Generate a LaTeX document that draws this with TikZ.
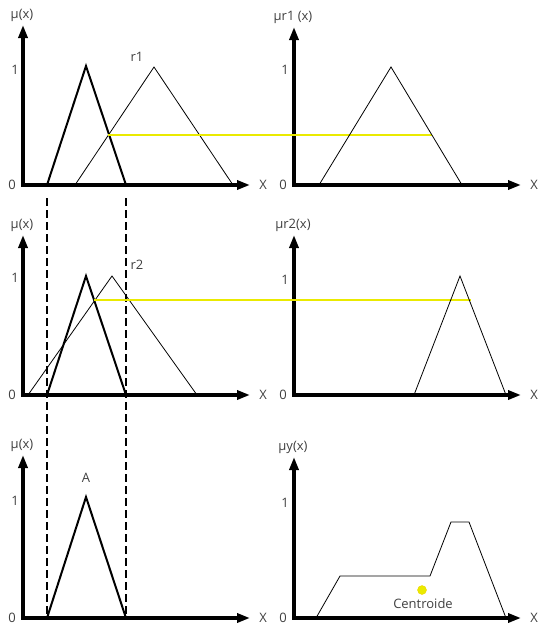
\documentclass[tikz,border=0pt]{standalone}
\usepackage{fontspec}
\setmainfont{Open Sans}
\usetikzlibrary{arrows.meta}
\definecolor{ink}{HTML}{404040}
\definecolor{cutdark}{HTML}{EAEA00}

\begin{document}
\begin{tikzpicture}[x=1pt,y=-1pt,font=\fontsize{13}{15}\selectfont,
  axis/.style={-{Triangle[length=13pt,width=9pt]},line width=4pt,black},
  setA/.style={line width=2pt,black,line join=miter},
  rule/.style={line width=0.8pt,black},
  guide/.style={line width=1.2pt,black,dash pattern=on 8pt off 4pt},
  cutline/.style={line width=1.2pt,draw=cutdark},
  lbl/.style={text=ink,inner sep=0pt}]
  \useasboundingbox (0,0) rectangle (548,637);

  % ===== axes =====
  \foreach \ox/\oy/\top/\name in {23/185/25/{μ(x)},294/185/27/{μr1 (x)},
                                   23/395/235/{μ(x)},294/395/235/{μr2(x)},
                                   23/618/455/{μ(x)},294/618/457/{μy(x)}}{
    \draw[axis] (\ox,\oy) -- (\ox,\top);
    \draw[axis] (\ox-2,\oy) -- (\ox+227,\oy);
    \node[lbl] at (\ox-1,\top-10) {\name};
    \node[lbl] at (\ox-11,\oy) {0};
    \node[lbl] at (\ox+240,\oy) {X};
  }
  \node[lbl] at (15,70) {1};
  \node[lbl] at (285,70) {1};
  \node[lbl] at (15,278) {1};
  \node[lbl] at (285,280) {1};
  \node[lbl] at (15,501) {1};
  \node[lbl] at (285,503) {1};

  % ===== projection guides =====
  \draw[guide] (47,198) -- (47,616);
  \draw[guide] (126,198) -- (126,616);

  % ===== rule 1 =====
  \draw[setA] (47,185) -- (86,66) -- (126,185);
  \draw[rule] (75,185) -- (154,67) -- (233,185);
  \node[lbl] at (137,57) {r1};
  \draw[cutline] (108,135) -- (432,135);
  \draw[rule] (319,185) -- (391,67) -- (462,185);

  % ===== rule 2 =====
  \draw[setA] (47,395) -- (86,276) -- (126,395);
  \draw[rule] (28,395) -- (112,276) -- (197,395);
  \node[lbl] at (137,265) {r2};
  \draw[cutline,line width=1.3pt] (94,300) -- (471,300);
  \draw[rule] (414,395) -- (460,276) -- (506,395);

  % ===== input and output =====
  \draw[setA] (47,618) -- (86,497) -- (126,618);
  \node[lbl] at (86,478) {A};
  \draw[rule] (316,618) -- (340,576) -- (430,576) -- (451,522) -- (469,522) -- (506,618);
  \fill[cutdark,draw=cutdark!80!orange,line width=0.4pt] (422,590) circle (4.5);
  \node[lbl] at (423,604) {Centroide};
\end{tikzpicture}
\end{document}
